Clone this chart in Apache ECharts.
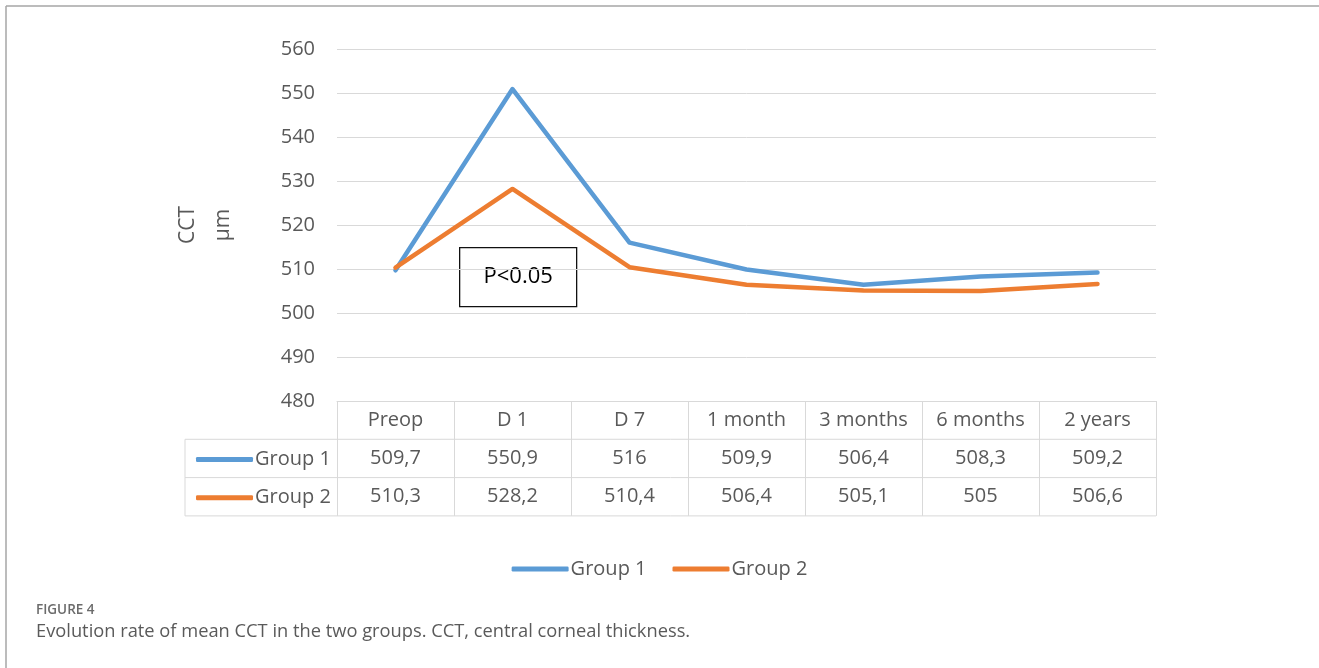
<!DOCTYPE html>
<html>
<head>
<meta charset="utf-8">
<script src="https://cdn.jsdelivr.net/npm/echarts@6/dist/echarts.min.js"></script>
<style>
  html, body { margin: 0; padding: 0; background: #fff; }
  #chart { width: 1319px; height: 668px; }
</style>
</head>
<body>
<div id="chart"></div>
<script>
// Time points and mean central corneal thickness (µm) per group
const categories = ['Preop', 'D 1', 'D 7', '1 month', '3 months', '6 months', '2 years'];
const group1 = [509.7, 550.9, 516, 509.9, 506.4, 508.3, 509.2];
const group2 = [510.3, 528.2, 510.4, 506.4, 505.1, 505, 506.6];
const seriesNames = ['Group 1', 'Group 2'];
const yMin = 480, yMax = 560, yStep = 10;
const pLabel = 'P<0.05';
const figureTag = 'FIGURE 4';
const caption = 'Evolution rate of mean CCT in the two groups. CCT, central corneal thickness.';

const FONT = '"Open Sans", "Noto Sans", sans-serif';
const TXT = '#595959';
const GRIDLINE = '#d9d9d9';
const COLORS = ['#5B9BD5', '#ED7D31'];

// plot area and data-table geometry
const W = 1319;
const gridLeft = 337, gridRight = 1156, gridTop = 49, gridBottom = 401;
const rowH = 38.3;
const tableLeft = 185;

const fmt = v => String(v).replace('.', ',');

const chart = echarts.init(document.getElementById('chart'), null, { renderer: 'canvas' });

// one category axis per table row: header names, then each group's values
function tableAxis(row, formatter, withTicks) {
  return {
    type: 'category',
    data: categories,
    position: 'bottom',
    offset: row * rowH,
    boundaryGap: true,
    axisLine: { show: row === 0, lineStyle: { color: GRIDLINE, width: 1 } },
    axisTick: {
      show: withTicks, interval: 0, length: rowH * 3,
      lineStyle: { color: GRIDLINE, width: 1 }
    },
    axisLabel: {
      interval: 0, margin: rowH / 2, verticalAlign: 'middle',
      fontFamily: FONT, fontSize: 20, color: TXT,
      formatter: formatter
    },
    splitLine: { show: false }
  };
}

const tableLines = [];
for (let r = 1; r <= 3; r++) {
  const y = gridBottom + r * rowH;
  tableLines.push({
    type: 'line', silent: true,
    shape: { x1: tableLeft, y1: y, x2: gridRight, y2: y },
    style: { stroke: GRIDLINE, lineWidth: 1 }
  });
}
tableLines.push({
  type: 'line', silent: true,
  shape: { x1: tableLeft, y1: gridBottom + rowH, x2: tableLeft, y2: gridBottom + 3 * rowH },
  style: { stroke: GRIDLINE, lineWidth: 1 }
});

const legendBase = {
  data: seriesNames,
  icon: 'roundRect',
  itemWidth: 57,
  itemHeight: 5,
  textStyle: { fontFamily: FONT, fontSize: 20, color: TXT, lineHeight: 22, padding: [0, 0, 0, -3] },
  selectedMode: false
};

const option = {
  backgroundColor: '#ffffff',
  animation: false,
  color: COLORS,
  grid: { left: gridLeft, right: W - gridRight, top: gridTop, bottom: 668 - gridBottom, containLabel: false },
  xAxis: [
    tableAxis(0, v => v, true),
    tableAxis(1, (v, i) => fmt(group1[i]), false),
    tableAxis(2, (v, i) => fmt(group2[i]), false)
  ],
  yAxis: {
    type: 'value',
    min: yMin, max: yMax, interval: yStep,
    name: 'CCT\nµm',
    nameLocation: 'middle',
    nameRotate: 90,
    nameGap: 96,
    nameTextStyle: { fontFamily: FONT, fontSize: 21, color: TXT, lineHeight: 35 },
    axisLine: { show: false },
    axisTick: { show: false },
    axisLabel: { margin: 22, fontFamily: FONT, fontSize: 20, color: TXT },
    splitLine: { lineStyle: { color: GRIDLINE, width: 1 } }
  },
  legend: [
    Object.assign({}, legendBase, {
      orient: 'horizontal',
      left: 'center',
      top: 553,
      itemGap: 26
    }),
    Object.assign({}, legendBase, {
      orient: 'vertical',
      left: tableLeft + 6,
      top: gridBottom + rowH + rowH / 2 - 15,
      itemGap: rowH - 22
    })
  ],
  series: [
    {
      name: seriesNames[0], type: 'line', data: group1,
      symbol: 'none', showSymbol: false,
      lineStyle: { width: 4.5, color: COLORS[0], cap: 'round', join: 'round' },
      itemStyle: { color: COLORS[0] }
    },
    {
      name: seriesNames[1], type: 'line', data: group2,
      symbol: 'none', showSymbol: false,
      lineStyle: { width: 4.5, color: COLORS[1], cap: 'round', join: 'round' },
      itemStyle: { color: COLORS[1] }
    }
  ],
  graphic: [
    // page frame
    { type: 'line', silent: true, shape: { x1: 6, y1: 6, x2: 1319, y2: 6 }, style: { stroke: '#a6a6a6', lineWidth: 1.5 } },
    { type: 'line', silent: true, shape: { x1: 6, y1: 6, x2: 6, y2: 668 }, style: { stroke: '#a6a6a6', lineWidth: 1.5 } },
    ...tableLines,
    // significance box
    {
      type: 'group', left: 459, top: 247, z: 100,
      children: [
        { type: 'rect', shape: { x: 0, y: 0, width: 117, height: 59 }, style: { fill: '#fff', stroke: '#111', lineWidth: 1.3 } },
        { type: 'text', x: 58.5, y: 29.5, style: { text: pLabel, fontFamily: FONT, fontSize: 22, fill: '#000', align: 'center', verticalAlign: 'middle' } }
      ]
    },
    // figure caption
    { type: 'text', x: 36, y: 610, style: { text: figureTag, fontFamily: FONT, fontSize: 13.5, fontWeight: 600, fill: '#6b6b6b', verticalAlign: 'middle' } },
    { type: 'text', x: 36, y: 632, style: { text: caption, fontFamily: FONT, fontSize: 18.3, fill: '#5a5a5a', verticalAlign: 'middle' } }
  ]
};

chart.setOption(option);
</script>
</body>
</html>
